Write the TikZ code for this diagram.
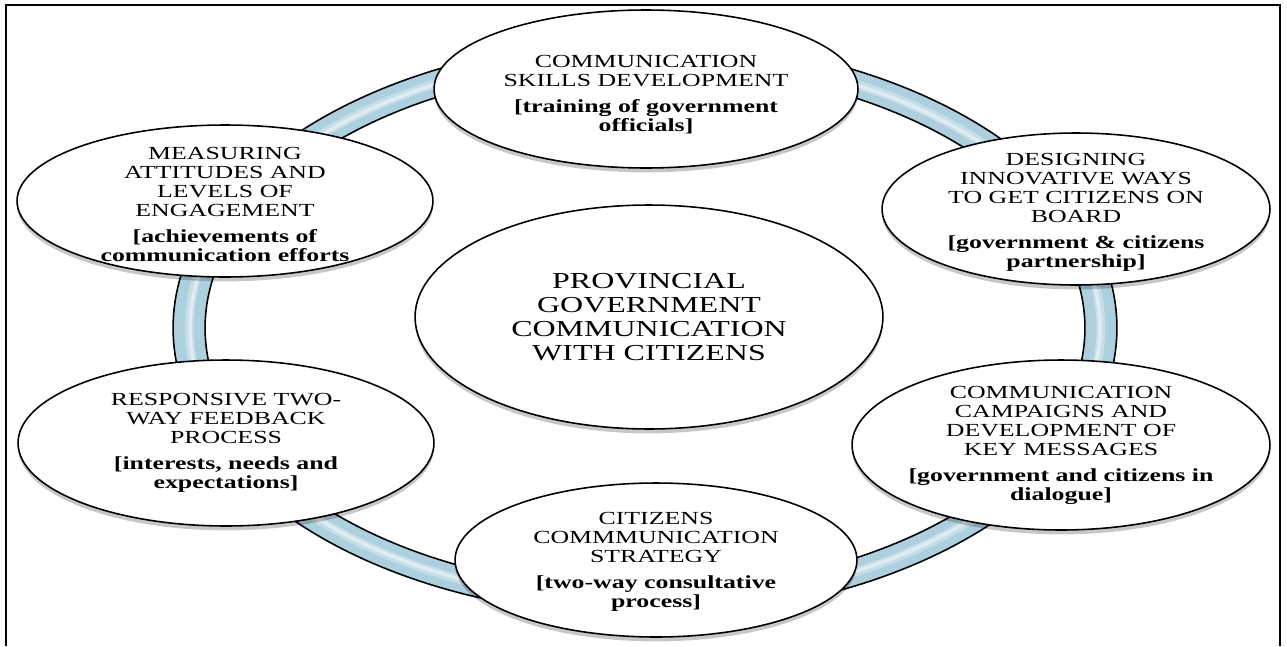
\documentclass[tikz,border=0pt]{standalone}
\usepackage{fontspec}
\usetikzlibrary{shapes.geometric,shadows}
\newfontfamily\rfont[FakeStretch=1.4]{Liberation Serif}
\definecolor{ringblue}{RGB}{172,208,222}
\begin{document}
\begin{tikzpicture}[x=0.02cm,y=-0.02cm,
  bub/.style={ellipse,draw=black,line width=0.9pt,fill=white,inner sep=0pt,
    drop shadow={shadow xshift=0pt,shadow yshift=-2.5pt,opacity=0.22,fill=black}},
  small/.style={font=\rfont\fontsize{10.5}{10.8}\selectfont,align=center,inner sep=0pt},
  big/.style={font=\rfont\fontsize{13}{13.6}\selectfont,align=center,inner sep=0pt},
  frame/.style={line width=1.1pt,draw=black}]
\useasboundingbox (0,0) rectangle (1287,646);
% outer frame (no bottom edge)
\draw[frame] (6,646) -- (6,5) -- (1280,5) -- (1280,646);
% ring
\coordinate (rc) at (645,328);
\fill[ringblue,even odd rule] (rc) ellipse [x radius=9.44cm,y radius=5.76cm]
   (rc) ellipse [x radius=8.8cm,y radius=5.24cm];
\draw[white,opacity=0.3,line width=5pt] (rc) ellipse [x radius=9.12cm,y radius=5.5cm];
\draw[white,opacity=0.45,line width=2pt] (rc) ellipse [x radius=9.1cm,y radius=5.49cm];
\draw[line width=0.9pt] (rc) ellipse [x radius=9.44cm,y radius=5.76cm];
\draw[line width=0.9pt] (rc) ellipse [x radius=8.8cm,y radius=5.24cm];
% bubbles
\node[bub,minimum width=8.48cm,minimum height=3.16cm] (top) at (646,89) {};
\node[bub,minimum width=8.32cm,minimum height=3.04cm] (ul) at (225,201) {};
\node[bub,minimum width=7.76cm,minimum height=3.04cm] (ur) at (1076,209) {};
\node[bub,minimum width=9.36cm,minimum height=4.48cm] (ctr) at (649,317) {};
\node[bub,minimum width=8.32cm,minimum height=3.32cm] (ll) at (226,443) {};
\node[bub,minimum width=8.04cm,minimum height=3.08cm] (bot) at (656,560) {};
\node[bub,minimum width=8.36cm,minimum height=3.4cm] (lr) at (1061,445) {};
% texts
\node[small] (ttop) at ([yshift=-3pt]top.center) {COMMUNICATION\\SKILLS DEVELOPMENT\\[4pt]\textbf{[training of government}\\\textbf{officials]}};
\node[small] (tul) at ([yshift=-2pt]ul.center) {MEASURING\\ATTITUDES AND\\LEVELS OF\\ENGAGEMENT\\[4pt]\textbf{[achievements of}\\\textbf{communication efforts}};
\node[small] (tur) at ([yshift=-2pt]ur.center) {DESIGNING\\INNOVATIVE WAYS\\TO GET CITIZENS ON\\BOARD\\[4pt]\textbf{[government \& citizens}\\\textbf{partnership]}};
\node[big] (tctr) at (ctr.center) {PROVINCIAL\\GOVERNMENT\\COMMUNICATION\\WITH CITIZENS};
\node[small] (tll) at (ll.center) {RESPONSIVE TWO-\\WAY FEEDBACK\\PROCESS\\[4pt]\textbf{[interests, needs and}\\\textbf{expectations]}};
\node[small] (tbot) at ([yshift=-1pt]bot.center) {CITIZENS\\COMMMUNICATION\\STRATEGY\\[4pt]\textbf{[two-way consultative}\\\textbf{process]}};
\node[small] (tlr) at (lr.center) {COMMUNICATION\\CAMPAIGNS AND\\DEVELOPMENT OF\\KEY MESSAGES\\[4pt]\textbf{[government and citizens in}\\\textbf{dialogue]}};
\end{tikzpicture}
\end{document}
